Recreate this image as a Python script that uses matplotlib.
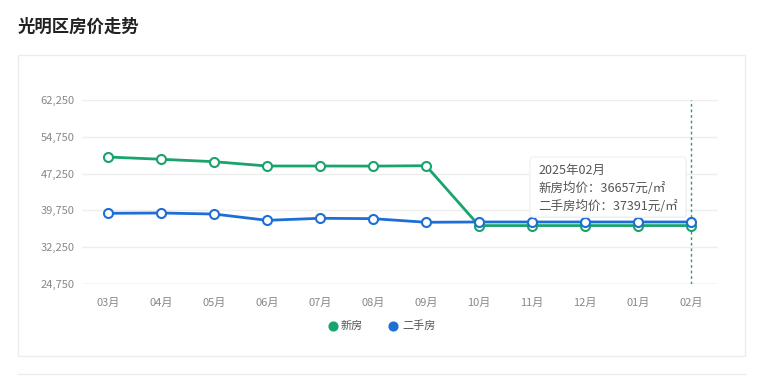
import numpy as np
import matplotlib.pyplot as plt
from matplotlib.patches import FancyBboxPatch, Rectangle

plt.rcParams['font.family'] = ['Noto Sans CJK SC', 'DejaVu Sans']

months = ["03月", "04月", "05月", "06月", "07月", "08月", "09月", "10月", "11月", "12月", "01月", "02月"]
new_price = [50630, 50170, 49680, 48800, 48800, 48780, 48860, 36657, 36657, 36657, 36657, 36657]
old_price = [39160, 39220, 39010, 37730, 38140, 38070, 37330, 37391, 37391, 37391, 37391, 37391]
yticks = [24750, 32250, 39750, 47250, 54750, 62250]
names = ["新房", "二手房"]
tip_title = "2025年02月"

green = "#1aa46d"
blue = "#1d6fd6"

W, H = 760, 376
fig = plt.figure(figsize=(W / 100, H / 100), dpi=100)

def px(x0, y0, x1, y1):
    return [x0 / W, 1 - y1 / H, (x1 - x0) / W, (y1 - y0) / H]

# card background
bg = fig.add_axes([0, 0, 1, 1])
bg.set_xlim(0, W)
bg.set_ylim(H, 0)
bg.axis("off")
bg.add_patch(Rectangle((18, 55), 727, 301, fill=False, edgecolor="#ececec", lw=1))
bg.plot([18, 745], [374, 374], color="#ececec", lw=1)
bg.text(18, 27, "光明区房价走势", fontsize=12.5, fontweight="bold", color="#222222", va="center")

ax = fig.add_axes(px(81.5, 100, 717.5, 284))
x = np.arange(len(months))
ax.set_xlim(-0.5, len(months) - 0.5)
ax.set_ylim(yticks[0], yticks[-1])
ax.set_yticks(yticks)
ax.set_yticklabels([f"{v:,}" for v in yticks])
ax.set_xticks(x)
ax.set_xticklabels(months)
ax.tick_params(length=0, labelsize=8, colors="#888888")
ax.tick_params(axis="y", pad=5)
ax.tick_params(axis="x", pad=10)
for s in ax.spines.values():
    s.set_visible(False)
ax.grid(axis="y", color="#eeeeee", lw=1)
ax.axhline(yticks[0], color="#e0e0e0", lw=1)
ax.set_axisbelow(True)

ax.axvline(x[-1], color="#2a9d7a", lw=1, ls=(0, (2, 2)), zorder=2)

ax.plot(x, new_price, color=green, lw=2, marker="o", ms=6.5, mfc="white", mec=green, mew=1.5, zorder=3)
ax.plot(x, old_price, color=blue, lw=2, marker="o", ms=6.5, mfc="white", mec=blue, mew=1.5, zorder=4)

# legend
bg.scatter([333], [326], s=40, color=green)
bg.text(341, 326, names[0], fontsize=8, color="#555555", va="center")
bg.scatter([393], [326], s=40, color=blue)
bg.text(402, 326, names[1], fontsize=8, color="#555555", va="center")

# tooltip
tip = fig.add_axes([0, 0, 1, 1], zorder=5)
tip.set_xlim(0, W)
tip.set_ylim(H, 0)
tip.axis("off")
tip.add_patch(FancyBboxPatch((531, 158), 156, 60, boxstyle="round,pad=0,rounding_size=3",
                             facecolor="#e8e8e8", edgecolor="none", alpha=0.6))
tip.add_patch(FancyBboxPatch((530, 157), 156, 60, boxstyle="round,pad=0,rounding_size=3",
                             facecolor="white", edgecolor="#f0f0f0", lw=0.8))
tip.text(538, 170, tip_title, fontsize=9, color="#555555", va="center")
tip.text(538, 188, f"{names[0]}均价：{new_price[-1]}元/㎡", fontsize=9, color="#555555", va="center")
tip.text(538, 206, f"{names[1]}均价：{old_price[-1]}元/㎡", fontsize=9, color="#555555", va="center")

fig.savefig("out.png", dpi=100)
